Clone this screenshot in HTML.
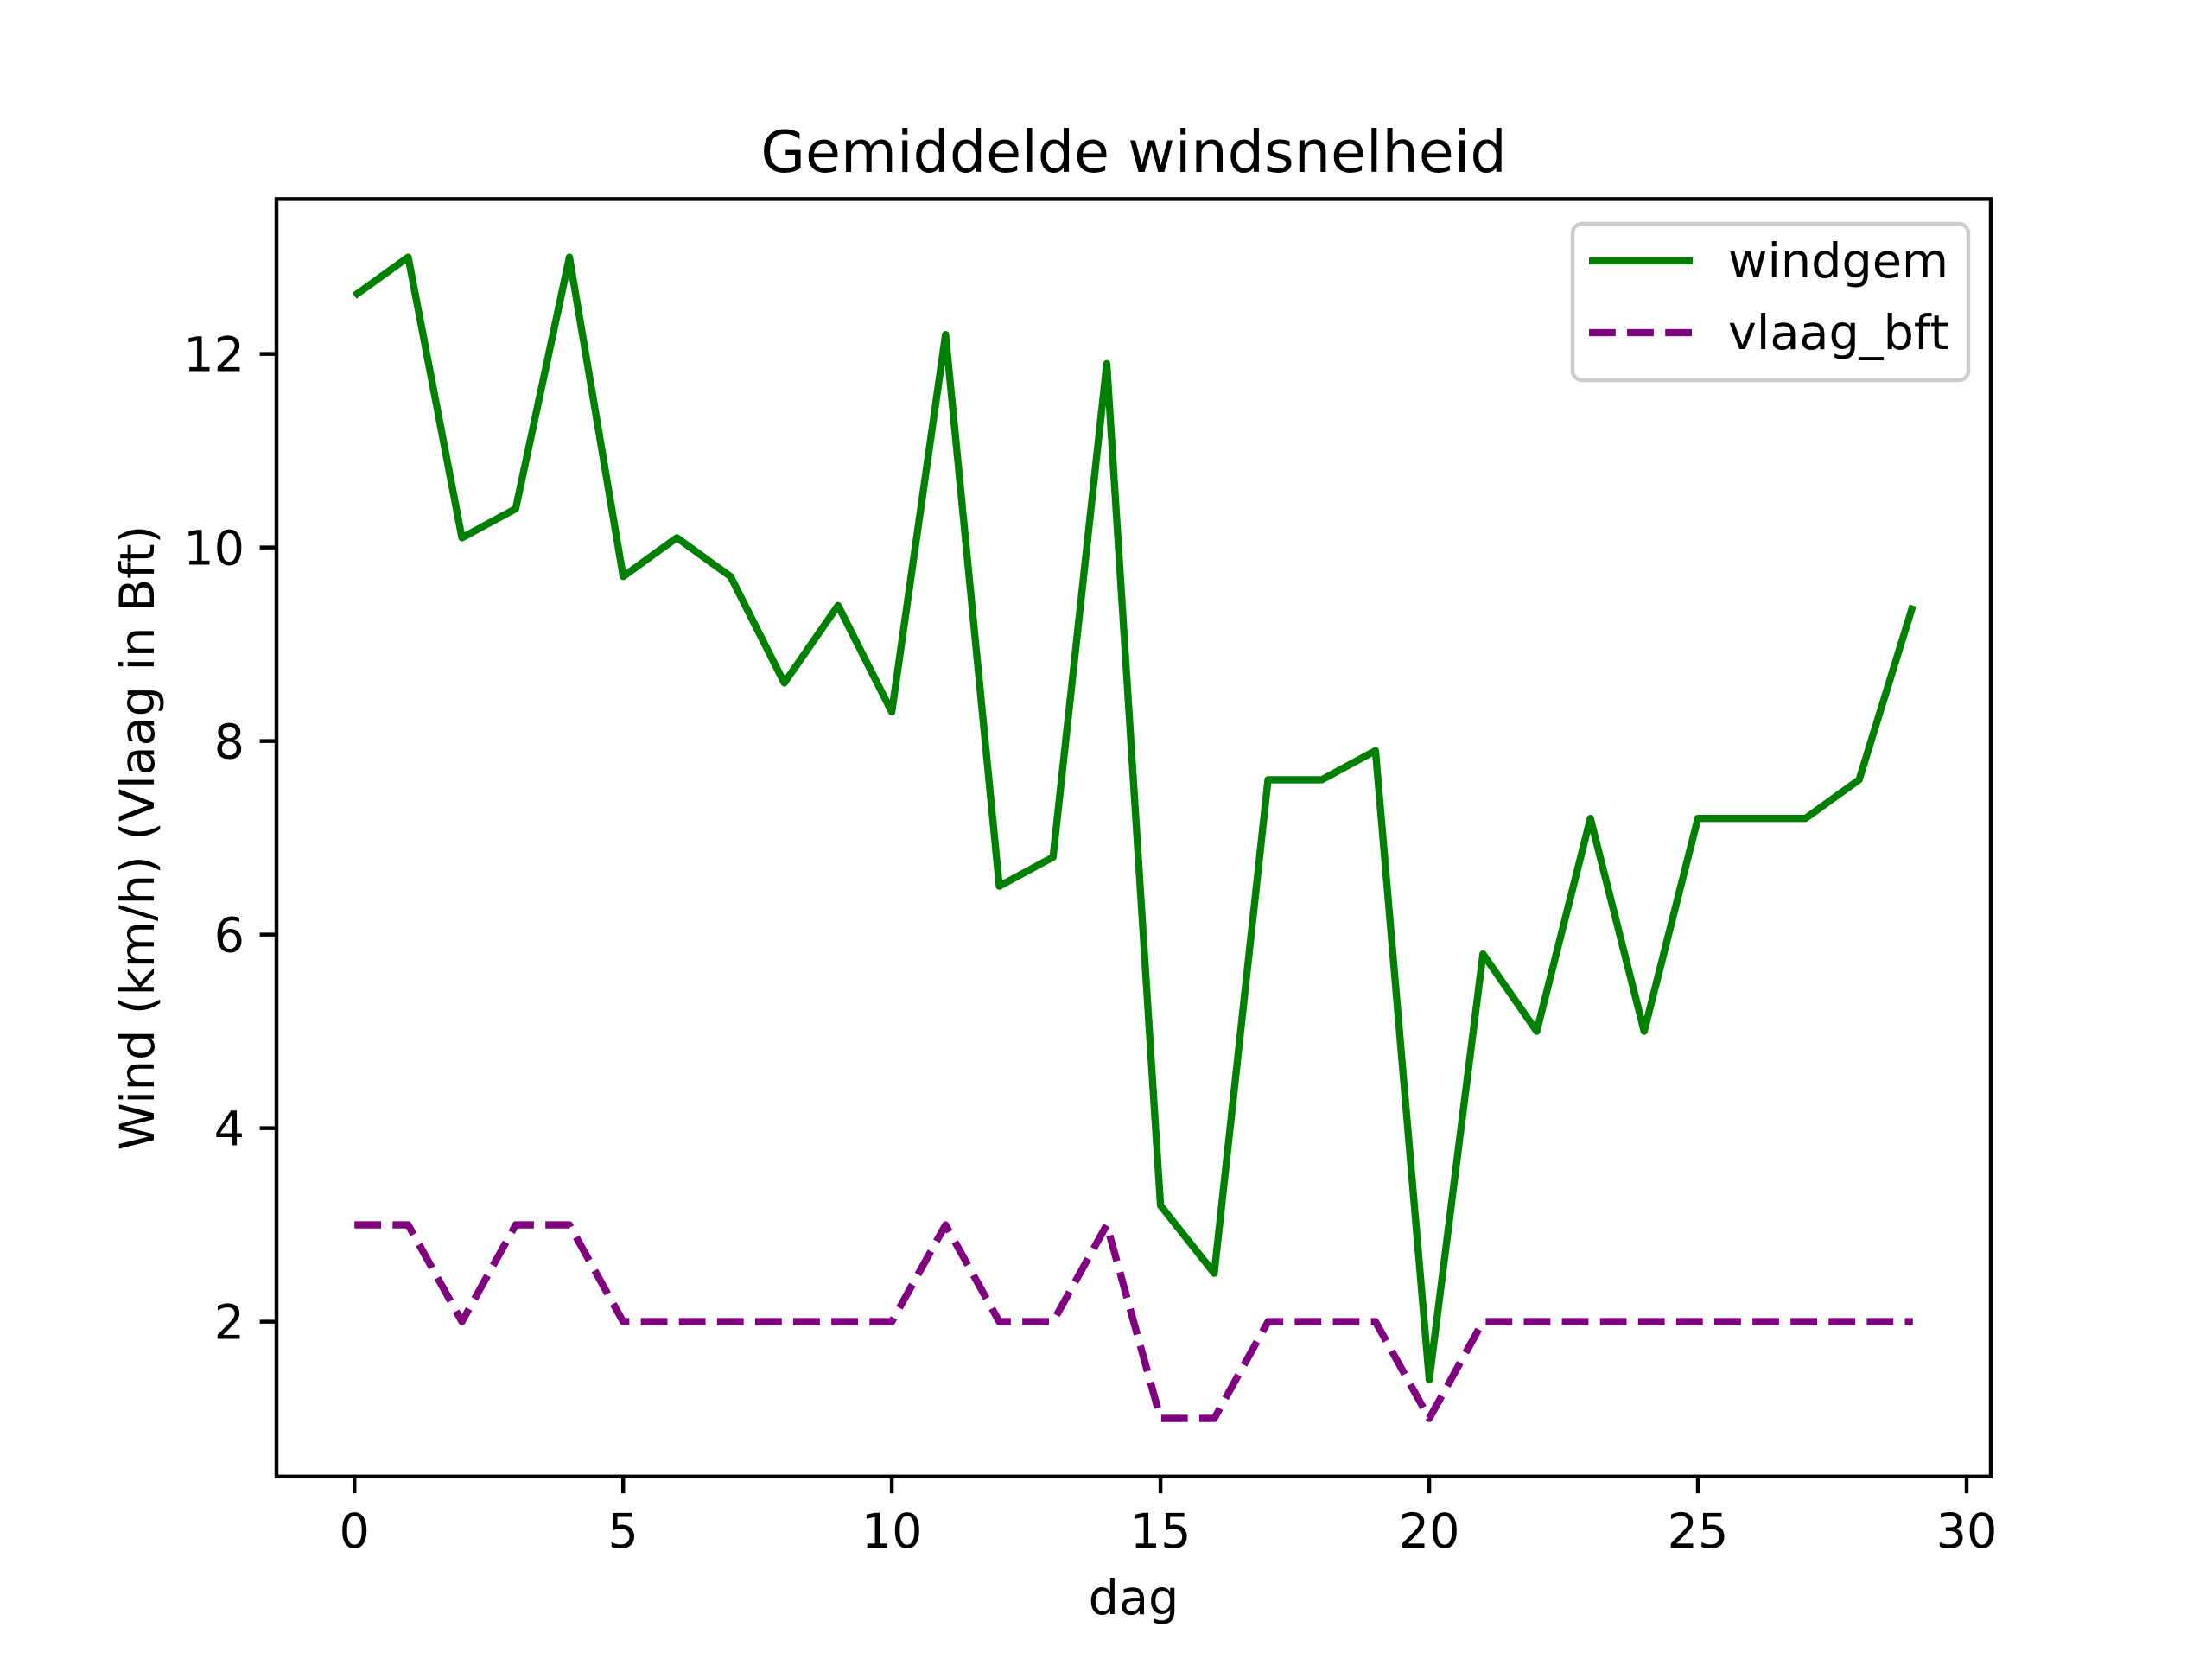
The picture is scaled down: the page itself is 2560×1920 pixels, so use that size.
<!DOCTYPE html>
<html><head><style>html,body{margin:0;padding:0;background:#fff}svg{display:block}</style></head>
<body>
<svg width="2560" height="1920" viewBox="0 0 2560 1920" xmlns="http://www.w3.org/2000/svg" font-family="DejaVu Sans, Liberation Sans, sans-serif">
<rect width="2560" height="1920" fill="#fff"/>
<polyline fill="none" stroke="#008000" stroke-width="8.33" stroke-linejoin="round" points="410.2,342.4 472.4,297.6 534.6,622.4 596.8,588.8 659.0,297.6 721.2,667.2 783.3,622.4 845.5,667.2 907.7,790.4 969.9,700.8 1032.1,824 1094.3,387.2 1156.5,1025.6 1218.7,992 1280.9,420.8 1343.1,1395.2 1405.3,1473.6 1467.5,902.4 1529.7,902.4 1591.9,868.8 1654.1,1596.8 1716.3,1104 1778.5,1193.6 1840.6,947.2 1902.8,1193.6 1965.0,947.2 2027.2,947.2 2089.4,947.2 2151.6,902.4 2213.8,700.8"/>
<polyline fill="none" stroke="#800080" stroke-width="8.33" stroke-linejoin="round" stroke-dasharray="30.8,13.3" points="410.2,1417.6 472.4,1417.6 534.6,1529.6 596.8,1417.6 659.0,1417.6 721.2,1529.6 783.3,1529.6 845.5,1529.6 907.7,1529.6 969.9,1529.6 1032.1,1529.6 1094.3,1417.6 1156.5,1529.6 1218.7,1529.6 1280.9,1417.6 1343.1,1641.6 1405.3,1641.6 1467.5,1529.6 1529.7,1529.6 1591.9,1529.6 1654.1,1641.6 1716.3,1529.6 1778.5,1529.6 1840.6,1529.6 1902.8,1529.6 1965.0,1529.6 2027.2,1529.6 2089.4,1529.6 2151.6,1529.6 2213.8,1529.6"/>
<rect x="320" y="230.4" width="1984" height="1478.4" fill="none" stroke="#000" stroke-width="4.44"/>
<g stroke="#000" stroke-width="4.44">
<line x1="410.2" y1="1708.8" x2="410.2" y2="1728.2"/><line x1="721.2" y1="1708.8" x2="721.2" y2="1728.2"/><line x1="1032.1" y1="1708.8" x2="1032.1" y2="1728.2"/><line x1="1343.1" y1="1708.8" x2="1343.1" y2="1728.2"/><line x1="1654.1" y1="1708.8" x2="1654.1" y2="1728.2"/><line x1="1965.0" y1="1708.8" x2="1965.0" y2="1728.2"/><line x1="2276.0" y1="1708.8" x2="2276.0" y2="1728.2"/>
<line x1="300.6" y1="1529.6" x2="320" y2="1529.6"/><line x1="300.6" y1="1305.6" x2="320" y2="1305.6"/><line x1="300.6" y1="1081.6" x2="320" y2="1081.6"/><line x1="300.6" y1="857.6" x2="320" y2="857.6"/><line x1="300.6" y1="633.6" x2="320" y2="633.6"/><line x1="300.6" y1="409.6" x2="320" y2="409.6"/>
</g>
<g font-size="55.6" text-anchor="middle" fill="#000">
<text x="410.2" y="1791">0</text><text x="721.2" y="1791">5</text><text x="1032.1" y="1791">10</text><text x="1343.1" y="1791">15</text><text x="1654.1" y="1791">20</text><text x="1965.0" y="1791">25</text><text x="2276.0" y="1791">30</text>
<text x="1312" y="1868">dag</text>
<text x="1312" y="199" font-size="66.7">Gemiddelde windsnelheid</text>
</g>
<g font-size="55.6" text-anchor="end" fill="#000">
<text x="283" y="1549.6">2</text><text x="283" y="1325.6">4</text><text x="283" y="1101.6">6</text><text x="283" y="877.6">8</text><text x="283" y="653.6">10</text><text x="283" y="429.6">12</text>
</g>
<text transform="translate(178,969.6) rotate(-90)" font-size="55.6" text-anchor="middle">Wind (km/h) (Vlaag in Bft)</text>
<rect x="1820" y="259" width="458" height="181" rx="11" fill="#fff" fill-opacity="0.8" stroke="#ccc" stroke-width="4.44"/>
<line x1="1839" y1="302" x2="1959" y2="302" stroke="#008000" stroke-width="8.33"/>
<line x1="1839" y1="385" x2="1959" y2="385" stroke="#800080" stroke-width="8.33" stroke-dasharray="30.8,13.3"/>
<text x="2000" y="321" font-size="55.6">windgem</text>
<text x="2000" y="404" font-size="55.6">vlaag_bft</text>
</svg>
</body></html>
